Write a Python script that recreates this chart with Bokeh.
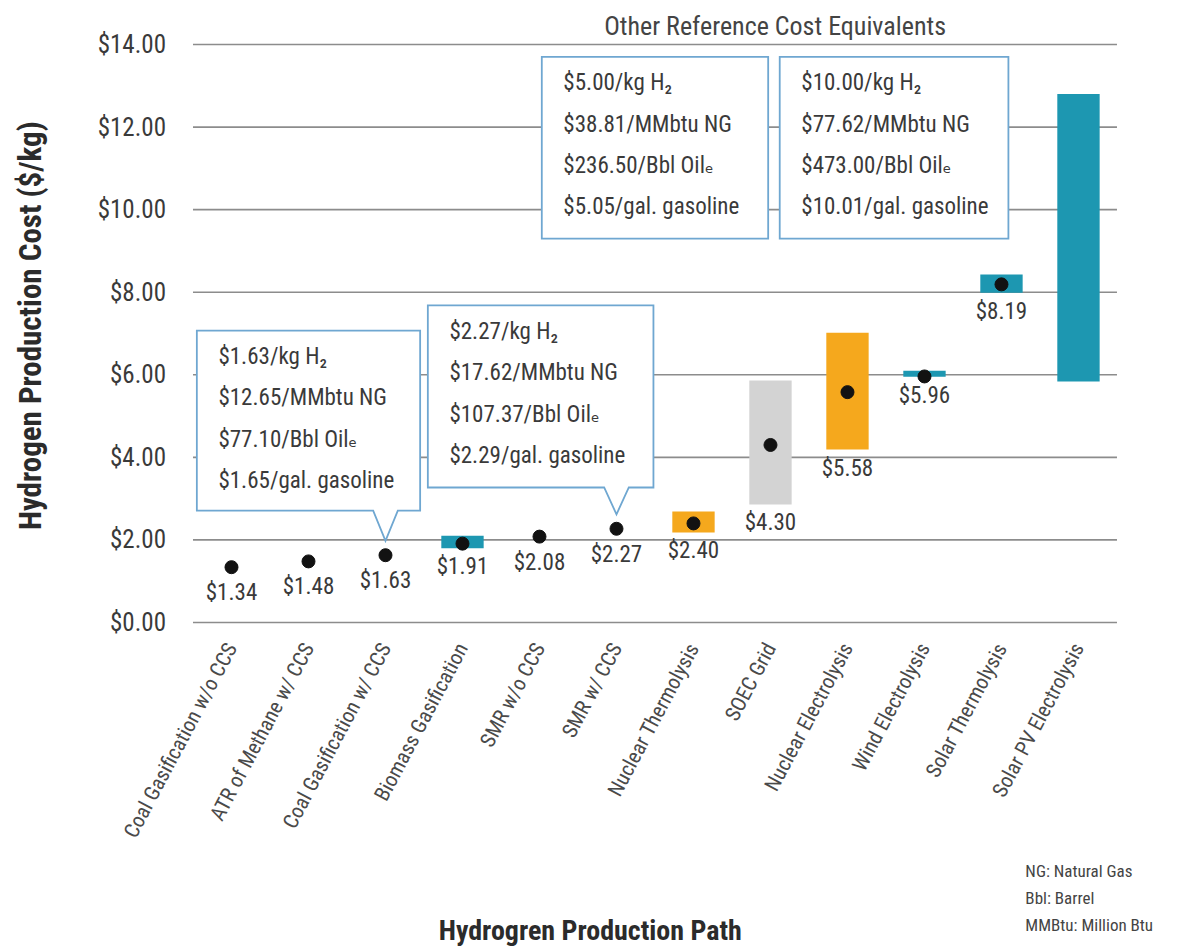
import math

from bokeh.plotting import figure
from bokeh.models import ColumnDataSource, Range1d, FixedTicker, NumeralTickFormatter, Label
from bokeh.core.properties import value
from bokeh.embed import file_html
from bokeh.resources import INLINE

# ---------------------------------------------------------------- data
paths = [
    "Coal Gasification w/o CCS",
    "ATR of Methane w/ CCS",
    "Coal Gasification w/ CCS",
    "Biomass Gasification",
    "SMR w/o CCS",
    "SMR w/ CCS",
    "Nuclear Thermolysis",
    "SOEC Grid",
    "Nuclear Electrolysis",
    "Wind Electrolysis",
    "Solar Thermolysis",
    "Solar PV Electrolysis",
]
# reference cost ($/kg) for each path
point_cost = [1.34, 1.48, 1.63, 1.91, 2.08, 2.27, 2.40, 4.30, 5.58, 5.96, 8.19, None]
# cost range ($/kg), where one is reported
range_low = [None, None, None, 1.80, None, None, 2.18, 2.86, 4.19, 5.95, 7.99, 5.84]
range_high = [None, None, None, 2.10, None, None, 2.69, 5.86, 7.02, 6.10, 8.43, 12.80]
range_group = [None, None, None, "renewable", None, None, "nuclear", "grid",
               "nuclear", "renewable", "renewable", "renewable"]

y_ticks = [0, 2, 4, 6, 8, 10, 12, 14]

# cost equivalents for selected hydrogen prices
equiv_h2 = [1.63, 2.27, 5.00, 10.00]
equiv_ng = [12.65, 17.62, 38.81, 77.62]
equiv_oil = [77.10, 107.37, 236.50, 473.00]
equiv_gas = [1.65, 2.29, 5.05, 10.01]
equiv_target = ["Coal Gasification w/ CCS", "SMR w/ CCS", None, None]

footnotes = ["NG: Natural Gas", "Bbl: Barrel", "MMBtu: Million Btu"]

# ---------------------------------------------------------------- style
FONT = "'Liberation Sans Narrow', 'Roboto Condensed', 'DejaVu Sans Condensed', sans-serif"
TEXT = "#3a3a3a"
GROUP_COLORS = {"renewable": "#1d97b1", "nuclear": "#f5a81d", "grid": "#d3d3d3"}
BOX_LINE = "#6fa7d1"

# callout boxes (left, right, bottom, top); x in path-index units
BOXES = [
    (-0.45, 2.45, 2.71, 7.07),
    (2.55, 5.48, 3.27, 7.68),
    (4.03, 6.97, 9.30, 13.70),
    (7.12, 10.09, 9.30, 13.70),
]

idx = list(range(len(paths)))
x_lo, x_hi = -0.5, len(paths) - 0.5          # extent of the category band

# The plot area covers the whole canvas; axes are pinned inside it so that
# titles and notes around the chart can be placed freely.
p = figure(
    width=1179, height=950,
    x_range=Range1d(-3.0, 12.312),
    y_range=Range1d(-7.945, 15.066),
    output_backend="svg", toolbar_location=None,
    min_border_left=0, min_border_right=0,
    min_border_top=0, min_border_bottom=0,
)
p.outline_line_color = None
p.xgrid.visible = False
p.ygrid.visible = False

# horizontal rules at the cost ticks, across the category band
p.segment(x0=[x_lo] * len(y_ticks), x1=[x_hi] * len(y_ticks), y0=y_ticks, y1=y_ticks,
          line_color="#8c8c8c", line_width=1.6)

xa, ya = p.xaxis[0], p.yaxis[0]
xa.fixed_location = 0
ya.fixed_location = x_lo
for ax in (xa, ya):
    ax.axis_line_color = None
    ax.major_tick_line_color = None
    ax.minor_tick_line_color = None
    ax.major_label_text_font = FONT
    ax.major_label_text_color = TEXT
    ax.axis_label = None

ya.ticker = FixedTicker(ticks=y_ticks)
ya.formatter = NumeralTickFormatter(format="$0.00")
ya.major_label_text_font_size = "25px"
ya.major_label_standoff = 21

xa.ticker = FixedTicker(ticks=idx)
xa.major_label_overrides = {i: name for i, name in zip(idx, paths)}
xa.major_label_orientation = math.radians(62)
xa.major_label_text_font_size = "21px"
xa.major_label_text_color = "#4a4a4a"
xa.major_label_standoff = 16

# cost ranges
bar_rows = [i for i, lo in enumerate(range_low) if lo is not None]
bars = ColumnDataSource(dict(
    x=bar_rows,
    low=[range_low[i] for i in bar_rows],
    high=[range_high[i] for i in bar_rows],
    color=[GROUP_COLORS[range_group[i]] for i in bar_rows],
))
p.vbar(x="x", bottom="low", top="high", width=0.55, source=bars,
       fill_color="color", line_color=None)

# reference cost points and their labels
pt_rows = [i for i, v in enumerate(point_cost) if v is not None]
points = ColumnDataSource(dict(
    x=pt_rows,
    cost=[point_cost[i] for i in pt_rows],
    base=[range_low[i] if range_low[i] is not None else point_cost[i] for i in pt_rows],
    off=[5 if range_low[i] is not None else 12 for i in pt_rows],
    label=[f"${point_cost[i]:.2f}" for i in pt_rows],
))
p.scatter(x="x", y="cost", size=13, color="#121212", source=points)
p.text(x="x", y="base", text="label", source=points, y_offset="off",
       text_align="center", text_baseline="top", text_font=value(FONT),
       text_font_size="23px", text_color=TEXT)

# callout boxes with cost equivalents
box_xs, box_ys = [], []
line_x, line_y, line_txt = [], [], []
for k, (left, right, bottom, top) in enumerate(BOXES):
    target = equiv_target[k]
    if target is None:
        xs = [left, right, right, left]
        ys = [top, top, bottom, bottom]
    else:
        cx = paths.index(target)
        tip = equiv_h2[k] + 0.35
        xs = [left, right, right, cx + 0.16, cx, cx - 0.16, left]
        ys = [top, top, bottom, bottom, tip, bottom, bottom]
    box_xs.append(xs)
    box_ys.append(ys)
    rows = [
        f"${equiv_h2[k]:.2f}/kg H\u2082",
        f"${equiv_ng[k]:.2f}/MMbtu NG",
        f"${equiv_oil[k]:.2f}/Bbl Oil\u2091",
        f"${equiv_gas[k]:.2f}/gal. gasoline",
    ]
    for j, t in enumerate(rows):
        line_x.append(left + 0.28)
        line_y.append(top - 0.63 - 1.0 * j)
        line_txt.append(t)

p.patches(xs=box_xs, ys=box_ys, fill_color="white", line_color=BOX_LINE,
          line_width=1.8, line_join="miter")
p.text(x=line_x, y=line_y, text=line_txt, text_align="left",
       text_baseline="middle", text_font=value(FONT), text_font_size="23px",
       text_color=TEXT)

p.add_layout(Label(x=(BOXES[2][0] + BOXES[3][1]) / 2, y=14.45,
                   text="Other Reference Cost Equivalents", text_align="center",
                   text_baseline="middle", text_font=FONT, text_font_size="26px",
                   text_color="#444444"))

# axis titles
p.add_layout(Label(x=-2.61, y=7.19, angle=math.pi / 2,
                   text="Hydrogen Production Cost ($/kg)", text_align="center",
                   text_baseline="middle", text_font=FONT, text_font_style="bold",
                   text_font_size="31px", text_color="#2b2b2b"))
p.add_layout(Label(x=4.66, y=-7.46, text="Hydrogren Production Path",
                   text_align="center", text_baseline="middle", text_font=FONT,
                   text_font_style="bold", text_font_size="28px",
                   text_color="#2b2b2b"))

# abbreviation notes
for j, note in enumerate(footnotes):
    p.add_layout(Label(x=10.31, y=-6.01 - 0.66 * j, text=note, text_align="left",
                       text_baseline="middle", text_font=FONT,
                       text_font_size="17px", text_color="#444444"))

open("out.html", "w").write(file_html(p, INLINE))
